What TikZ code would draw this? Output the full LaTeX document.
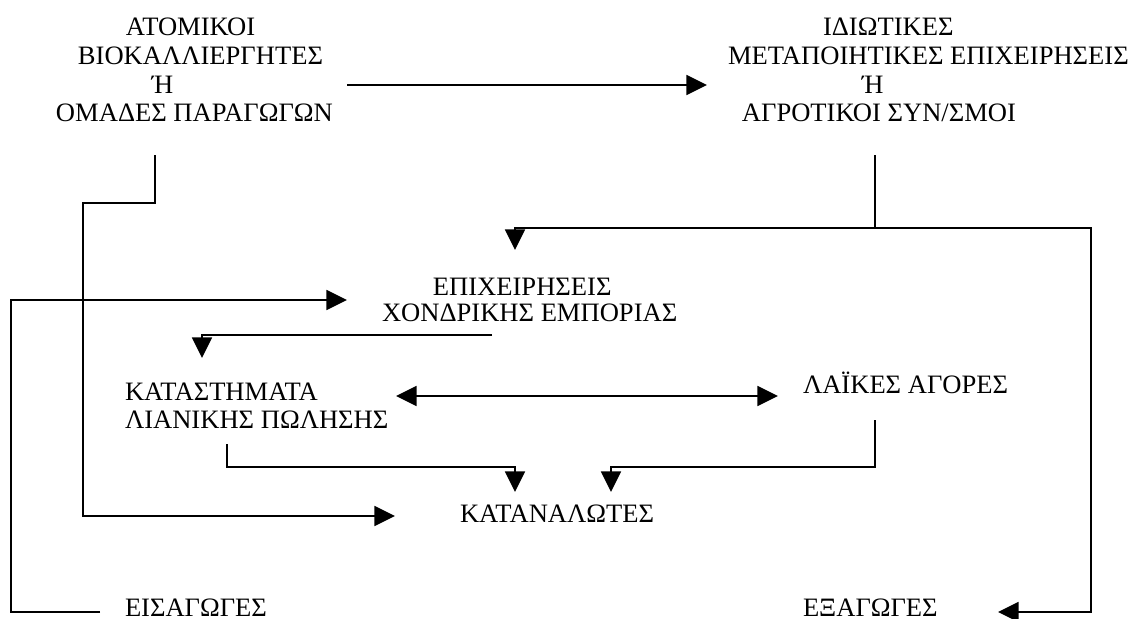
\documentclass[tikz,border=0pt]{standalone}
\usepackage{fontspec}
\setmainfont{Liberation Serif}
\usetikzlibrary{arrows.meta, positioning, calc}
\tikzset{
  txt/.style={
    inner sep=0pt, outer sep=0pt,
    align=left,
    font=\fontsize{12}{13}\selectfont
  },
  arrow/.style={
    -{Triangle[length=9.3pt, width=9pt]},
    line width=0.9pt
  },
  darrow/.style={
    {Triangle[length=9.3pt, width=9pt]}-{Triangle[length=9.3pt, width=9pt]},
    line width=0.9pt
  },
  link/.style={
    line width=0.9pt
  }
}

\begin{document}
\begin{tikzpicture}[x=0.01587cm, y=-0.01587cm]

\useasboundingbox (0,0) rectangle (1133,619);

%------------------------------------------------------
% NODES
%------------------------------------------------------

% 1. Producers (top left)
\node[txt, anchor=north west] (src) at (56,18) {%
  \hspace*{31.6pt}ΑΤΟΜΙΚΟΙ\\
  \hspace*{9.9pt}ΒΙΟΚΑΛΛΙΕΡΓΗΤΕΣ\\
  \hspace*{43.3pt}Ή\\
  ΟΜΑΔΕΣ ΠΑΡΑΓΩΓΩΝ
};

% 2. Processing firms (top right)
\node[txt, anchor=north west] (proc) at (728,18) {%
  \hspace*{42.9pt}ΙΔΙΩΤΙΚΕΣ\\
  ΜΕΤΑΠΟΙΗΤΙΚΕΣ ΕΠΙΧΕΙΡΗΣΕΙΣ\\
  \hspace*{60.5pt}Ή\\
  \hspace*{6.3pt}ΑΓΡΟΤΙΚΟΙ ΣΥΝ/ΣΜΟΙ
};

% 3. Wholesale
\node[txt, anchor=north west, font=\fontsize{12}{11.7}\selectfont] (whole) at (382,278) {%
  \hspace*{23pt}ΕΠΙΧΕΙΡΗΣΕΙΣ\\
  ΧΟΝΔΡΙΚΗΣ ΕΜΠΟΡΙΑΣ
};

% 4. Retail shops
\node[txt, anchor=north west, font=\fontsize{12}{12.6}\selectfont] (retail) at (125,383) {%
  ΚΑΤΑΣΤΗΜΑΤΑ\\
  ΛΙΑΝΙΚΗΣ ΠΩΛΗΣΗΣ
};

% 5. Street markets
\node[txt, anchor=base west] (market) at (803,393) {ΛΑΪΚΕΣ ΑΓΟΡΕΣ};

% 6. Consumers
\node[txt, anchor=base west] (cons) at (460,522) {ΚΑΤΑΝΑΛΩΤΕΣ};

% 7. Imports / exports
\node[txt, anchor=base west] (imp) at (125,616) {ΕΙΣΑΓΩΓΕΣ};
\node[txt, anchor=base west] (exp) at (803,616) {ΕΞΑΓΩΓΕΣ};

%------------------------------------------------------
% EDGES
%------------------------------------------------------

\draw[arrow] ([shift={(291,67)}]src.north west) -- ([shift={(-21,67)}]proc.north west);
\draw[arrow] ([shift={(99,137)}]src.north west) -- ++(0,48) -- ++(-72,0)
  |- ([shift={(-65,-6)}]cons.base west);

\draw[link] ([shift={(147,137)}]proc.north west) -- ++(0,73) coordinate (split);
\draw[arrow] (split) -| ([shift={(133,-28)}]whole.north west);
\draw[arrow] (split) -- ++(216,0) |- ([shift={(195,-4)}]exp.base west);

\draw[arrow] ([shift={(-25,-4)}]imp.base west) -- ++(-89,0)
  |- ([shift={(-35,22)}]whole.north west);
\draw[arrow] ([shift={(110,57)}]whole.north west) -| ([shift={(77,-25)}]retail.north west);

\draw[darrow] ([shift={(271,13)}]retail.north west) -- ([shift={(-25,3)}]market.base west);
\draw[arrow] ([shift={(102,61)}]retail.north west) -- ++(0,23)
  -| ([shift={(55,-30)}]cons.base west);
\draw[arrow] ([shift={(72,27)}]market.base west) -- ++(0,47)
  -| ([shift={(151,-30)}]cons.base west);

\end{tikzpicture}
\end{document}
